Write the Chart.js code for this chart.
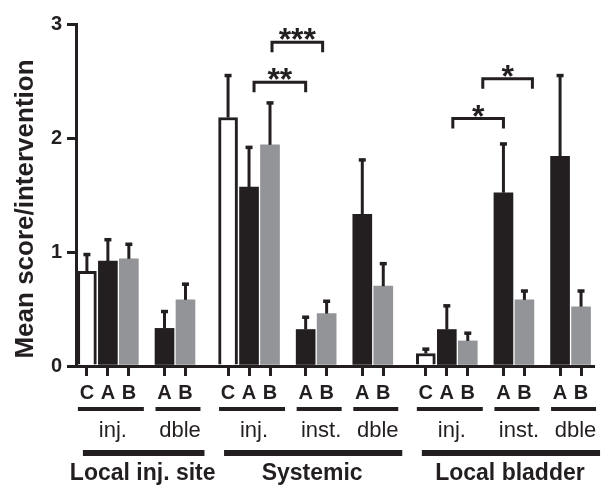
<!DOCTYPE html>
<html lang="en">
<head>
<meta charset="UTF-8">
<title>Mean score per intervention</title>
<script src="https://cdn.jsdelivr.net/npm/chart.js@4.4.0/dist/chart.umd.min.js"></script>
<style>
  body { margin: 0; background: #fff; }
</style>
</head>
<body>
<canvas id="chart" width="603" height="487"></canvas>
<script>
// groups and sub-groups along the x axis
const groupNames = ['Local inj. site', 'Systemic', 'Local bladder'];
const subLabels = ['inj.', 'dble', 'inj.', 'inst.', 'dble', 'inj.', 'inst.', 'dble'];
const subGroup = [0, 0, 1, 1, 1, 2, 2, 2];

// one entry per bar
const barLetters = ['C', 'A', 'B', 'A', 'B', 'C', 'A', 'B', 'A', 'B', 'A', 'B', 'C', 'A', 'B', 'A', 'B', 'A', 'B'];
const barSub = [0, 0, 0, 1, 1, 2, 2, 2, 3, 3, 4, 4, 5, 5, 5, 6, 6, 7, 7];
const means = [0.83, 0.92, 0.94, 0.33, 0.58, 2.18, 1.57, 1.94, 0.32, 0.46, 1.33, 0.70, 0.11, 0.32, 0.22, 1.52, 0.58, 1.84, 0.52];
const sem = [0.15, 0.19, 0.13, 0.15, 0.14, 0.37, 0.35, 0.37, 0.11, 0.11, 0.48, 0.20, 0.04, 0.21, 0.07, 0.43, 0.08, 0.71, 0.14];

const yTicks = [0, 1, 2, 3];

// significance brackets (bar index from/to, height, label)
const sigFrom = [6, 7, 13, 14];
const sigTo = [8, 9, 15, 16];
const sigLevel = [2.49, 2.84, 2.17, 2.52];
const sigLabel = ['**', '***', '*', '*'];

// styling
const fam = '"Liberation Sans", Arial, Helvetica, sans-serif';
const black = '#231f20';
const gray = '#929497';
const letterColor = { C: '#ffffff', A: black, B: gray };
const sigInset = [[5, 0], [2, -4], [6, 0], [15, 8]];

// bar positions: step 1 inside a sub-group, wider between sub-groups and groups
const xPos = [];
let cur = 0.52;
barSub.forEach((s, i) => {
  if (i > 0) {
    const prev = barSub[i - 1];
    if (s === prev) cur += 1;
    else if (subGroup[s] === subGroup[prev]) cur += 1.7;
    else cur += 2.03;
  }
  xPos.push(cur);
});
const xMax = xPos[xPos.length - 1] + 0.57;

const extras = {
  id: 'extras',
  afterDraw(chart) {
    const ctx = chart.ctx;
    const ys = chart.scales.y;
    const area = chart.chartArea;
    const bars = chart.getDatasetMeta(0).data;
    const b = area.bottom;
    ctx.save();
    ctx.strokeStyle = black;
    ctx.fillStyle = black;
    ctx.lineWidth = 3;

    // error bars (upper only)
    bars.forEach((bar, i) => {
      const top = ys.getPixelForValue(means[i] + sem[i]);
      ctx.beginPath();
      ctx.moveTo(bar.x, ys.getPixelForValue(means[i]));
      ctx.lineTo(bar.x, top);
      ctx.stroke();
      ctx.fillRect(bar.x - 3.5, top - 1.5, 7, 3.5);
    });

    // significance brackets
    ctx.textAlign = 'center';
    ctx.textBaseline = 'alphabetic';
    sigFrom.forEach((from, k) => {
      const x1 = bars[from].x + sigInset[k][0];
      const x2 = bars[sigTo[k]].x + sigInset[k][1];
      const y = ys.getPixelForValue(sigLevel[k]);
      ctx.beginPath();
      ctx.moveTo(x1, y + 10);
      ctx.lineTo(x1, y);
      ctx.lineTo(x2, y);
      ctx.lineTo(x2, y + 10);
      ctx.stroke();
      ctx.font = 'bold 32px ' + fam;
      ctx.fillText(sigLabel[k], (x1 + x2) / 2, y + 8);
    });

    // sub-group underlines and labels
    subLabels.forEach((lab, s) => {
      const idx = [];
      barSub.forEach((v, i) => { if (v === s) idx.push(i); });
      const x1 = bars[idx[0]].x - 9;
      const x2 = bars[idx[idx.length - 1]].x + 15;
      ctx.fillRect(x1, b + 41, x2 - x1, 4);
      ctx.font = '22px ' + fam;
      ctx.fillText(lab, (x1 + x2) / 2 + 2, b + 71);
    });

    // group lines and labels
    groupNames.forEach((name, g) => {
      const idx = [];
      barSub.forEach((v, i) => { if (subGroup[v] === g) idx.push(i); });
      const x1 = bars[idx[0]].x - 4;
      const x2 = bars[idx[idx.length - 1]].x + 19;
      ctx.fillRect(x1, b + 84, x2 - x1, 6);
      ctx.font = 'bold 23px ' + fam;
      ctx.fillText(name, (x1 + x2) / 2 - 1, b + 114);
    });

    // y axis title
    ctx.translate(33, (area.top + area.bottom) / 2 + 14);
    ctx.rotate(-Math.PI / 2);
    ctx.font = 'bold 26px ' + fam;
    ctx.fillText('Mean score/intervention', 0, 0);
    ctx.restore();
  }
};

const ctx = document.getElementById('chart').getContext('2d');
new Chart(ctx, {
  type: 'bar',
  data: {
    datasets: [{
      data: xPos.map((x, i) => ({ x: x, y: means[i] })),
      backgroundColor: barLetters.map(l => letterColor[l]),
      borderColor: black,
      borderWidth: barLetters.map(l => (l === 'C' ? 3 : 0)),
      borderSkipped: 'bottom',
      barThickness: 19
    }]
  },
  options: {
    responsive: false,
    animation: false,
    layout: { padding: { top: 24, right: 10, bottom: 0, left: 0 } },
    plugins: { legend: { display: false }, tooltip: { enabled: false } },
    scales: {
      x: {
        type: 'linear',
        offset: false,
        min: 0,
        max: xMax,
        afterBuildTicks: scale => { scale.ticks = xPos.map(v => ({ value: v })); },
        afterFit: scale => { scale.height = 121; },
        grid: { offset: false, drawOnChartArea: false, tickLength: 10, lineWidth: 3, color: black },
        border: { display: true, width: 3, color: black },
        ticks: {
          autoSkip: false,
          maxRotation: 0,
          padding: 5,
          color: black,
          font: { family: fam, size: 20, weight: 'bold' },
          callback: (value, index) => barLetters[index]
        }
      },
      y: {
        min: 0,
        max: 3,
        afterBuildTicks: scale => { scale.ticks = yTicks.map(v => ({ value: v })); },
        afterFit: scale => { scale.width = 76; },
        grid: { drawOnChartArea: false, tickLength: 9, lineWidth: 3, color: black },
        border: { display: true, width: 3, color: black },
        ticks: {
          padding: 5,
          color: black,
          font: { family: fam, size: 20, weight: 'bold' }
        }
      }
    }
  },
  plugins: [extras]
});
</script>
</body>
</html>
